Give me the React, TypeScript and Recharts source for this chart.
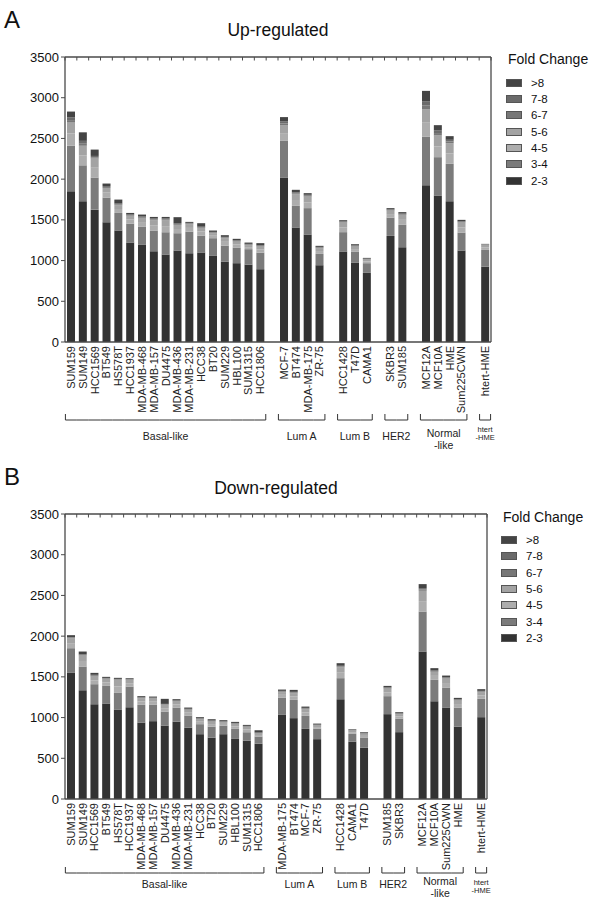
import React from 'react';
import { BarChart, Bar, XAxis, YAxis } from 'recharts';

// ---------- shared ----------
const binNames = ['2-3', '3-4', '4-5', '5-6', '6-7', '7-8', '>8'];
const binColors = ['#333333', '#7b7b7b', '#adadad', '#a3a3a3', '#777777', '#6a6a6a', '#444444'];
const yTicks = [0, 500, 1000, 1500, 2000, 2500, 3000, 3500];
const groupNames = ['Basal-like', 'Lum A', 'Lum B', 'HER2', 'Normal\n-like', 'htert\n-HME'];

// ---------- Panel A: Up-regulated ----------
const upCategories = [
  'SUM159', 'SUM149', 'HCC1569', 'BT549', 'HS578T', 'HCC1937', 'MDA-MB-468', 'MDA-MB-157', 'DU4475',
  'MDA-MB-436', 'MDA-MB-231', 'HCC38', 'BT20', 'SUM229', 'HBL100', 'SUM1315', 'HCC1806', '',
  'MCF-7', 'BT474', 'MDA-MB-175', 'ZR-75', '',
  'HCC1428', 'T47D', 'CAMA1', '',
  'SKBR3', 'SUM185', '',
  'MCF12A', 'MCF10A', 'HME', 'Sum225CWN', '',
  'htert-HME',
];
const up2to3 = [1850, 1730, 1625, 1470, 1368, 1221, 1197, 1114, 1074, 1123, 1091, 1098, 1058, 988, 968, 951, 894, null, 2020, 1405, 1316, 943, null, 1107, 972, 849, null, 1303, 1165, null, 1926, 1795, 1730, 1123, null, 926];
const up3to4 = [560, 440, 395, 304, 217, 233, 221, 255, 274, 213, 265, 209, 217, 196, 192, 189, 204, null, 450, 267, 328, 139, null, 242, 139, 119, null, 225, 274, null, 597, 475, 458, 221, null, 205];
const up4to5 = [150, 120, 120, 60, 48, 50, 55, 65, 75, 52, 45, 50, 30, 46, 37, 25, 37, null, 95, 72, 71, 35, null, 59, 30, 22, null, 43, 61, null, 170, 133, 127, 61, null, 31];
const up5to6 = [135, 120, 113, 58, 47, 45, 52, 62, 70, 50, 46, 43, 31, 45, 36, 24, 37, null, 94, 72, 71, 35, null, 59, 31, 22, null, 43, 61, null, 167, 133, 127, 62, null, 31];
const up6to7 = [30, 25, 15, 12, 10, 8, 10, 10, 10, 10, 8, 8, 8, 8, 8, 8, 8, null, 25, 10, 10, 8, null, 8, 8, 6, null, 8, 8, null, 47, 30, 20, 8, null, 4];
const up7to8 = [35, 35, 17, 12, 10, 8, 10, 10, 13, 11, 8, 8, 8, 8, 8, 8, 8, null, 24, 13, 12, 8, null, 8, 8, 6, null, 8, 8, null, 46, 31, 21, 8, null, 4];
const upOver8 = [70, 105, 78, 30, 49, 20, 20, 20, 20, 74, 12, 43, 17, 21, 18, 16, 26, null, 54, 30, 20, 13, null, 13, 13, 9, null, 14, 18, null, 131, 66, 45, 17, null, 4];

// ---------- Panel B: Down-regulated ----------
const downCategories = [
  'SUM159', 'SUM149', 'HCC1569', 'BT549', 'HS578T', 'HCC1937', 'MDA-MB-468', 'MDA-MB-157', 'DU4475',
  'MDA-MB-436', 'MDA-MB-231', 'HCC38', 'BT20', 'SUM229', 'HBL100', 'SUM1315', 'HCC1806', '',
  'MDA-MB-175', 'BT474', 'MCF-7', 'ZR-75', '',
  'HCC1428', 'CAMA1', 'T47D', '',
  'SUM185', 'SKBR3', '',
  'MCF12A', 'MCF10A', 'Sum225CWN', 'HME', '',
  'htert-HME',
];
const down2to3 = [1553, 1337, 1165, 1172, 1095, 1128, 939, 956, 902, 951, 877, 796, 754, 796, 738, 717, 677, null, 1033, 993, 861, 735, null, 1226, 705, 631, null, 1042, 821, null, 1807, 1201, 1123, 889, null, 1005];
const down3to4 = [299, 290, 245, 217, 208, 253, 217, 200, 172, 172, 148, 123, 135, 106, 123, 103, 90, null, 213, 224, 160, 130, null, 258, 95, 119, null, 221, 167, null, 495, 262, 246, 234, null, 225];
const down4to5 = [62, 68, 47, 43, 80, 41, 41, 39, 41, 37, 35, 30, 31, 20, 30, 33, 18, null, 33, 41, 41, 18, null, 67, 20, 25, null, 46, 27, null, 128, 49, 55, 43, null, 41];
const down5to6 = [61, 67, 47, 43, 80, 41, 41, 38, 41, 37, 35, 31, 31, 21, 31, 33, 18, null, 33, 42, 41, 19, null, 68, 20, 25, null, 47, 27, null, 127, 49, 55, 43, null, 41];
const down6to7 = [6, 8, 10, 6, 6, 6, 6, 6, 6, 7, 6, 6, 7, 6, 6, 6, 8, null, 8, 8, 8, 6, null, 8, 5, 5, null, 8, 6, null, 16, 8, 8, 8, null, 8];
const down7to8 = [7, 9, 11, 6, 6, 6, 6, 6, 6, 7, 7, 6, 7, 6, 6, 6, 8, null, 8, 8, 8, 6, null, 9, 5, 6, null, 8, 6, null, 17, 9, 8, 8, null, 8];
const downOver8 = [24, 32, 24, 13, 13, 9, 13, 13, 62, 15, 15, 13, 15, 13, 13, 12, 26, null, 16, 24, 16, 12, null, 32, 7, 9, null, 17, 12, null, 49, 29, 21, 17, null, 21];

const FONT = '"Liberation Sans", Arial, Helvetica, sans-serif';
const AXIS = '#4a4a4a';

function buildRows(cats: string[], series: (number | null)[][]) {
  return cats.map((c, i) => {
    const row: any = { key: c || `gap${i}`, label: c };
    series.forEach((s, k) => {
      row[`b${k}`] = s[i];
    });
    return row;
  });
}

function buildGroups(cats: string[]) {
  const groups: { start: number; end: number; name: string }[] = [];
  let cur: any = null;
  cats.forEach((c, i) => {
    if (c) {
      if (!cur) {
        cur = { start: i, end: i, name: groupNames[groups.length] };
        groups.push(cur);
      } else cur.end = i;
    } else cur = null;
  });
  return groups;
}

type PanelCfg = {
  letter: string;
  title: string;
  cats: string[];
  series: (number | null)[][];
  top: number;
  height: number;
  marginTop: number;
  marginRight: number;
  xAxisHeight: number;
  bracketOff: number;
  labelOff: number;
  legendX: number;
  legendTitleY: number;
  legendFirstY: number;
  letterY: number;
  titleY: number;
};

const YAXIS_W = 40;
const MARGIN_L = 25;
const WIDTH = 593;

function Panel({ cfg }: { cfg: PanelCfg }) {
  const rows = buildRows(cfg.cats, cfg.series);
  const groups = buildGroups(cfg.cats);
  const plotLeft = MARGIN_L + YAXIS_W;
  const plotRight = WIDTH - cfg.marginRight;
  const plotTop = cfg.marginTop;
  const slot = (plotRight - plotLeft) / cfg.cats.length;
  const keyIndex = new Map(rows.map((r: any, i: number) => [r.key, i]));
  const T = cfg.top;

  const CatTick = (props: any) => {
    const { x, y, payload } = props;
    const i = keyIndex.get(payload.value) as number;
    const row = rows[i];
    if (!row || !row.label) return <g />;
    const g = groups.find((gr) => i >= gr.start && i <= gr.end)!;
    const by = y + cfg.bracketOff;
    const left = i === g.start ? x - 5.5 : x - slot / 2;
    const right = i === g.end ? x + 5.5 : x + slot / 2;
    const els: any[] = [];
    els.push(
      <text key="t" x={x} y={y} transform={`rotate(-90 ${x} ${y})`} textAnchor="end" dy="0.36em"
        fontSize={11} fill="#222" fontFamily={FONT}>{row.label}</text>
    );
    els.push(<line key="b" x1={left} x2={right} y1={by} y2={by} stroke="#333" strokeWidth={1} />);
    if (i === g.start) els.push(<line key="h1" x1={left} x2={left} y1={by - 6} y2={by} stroke="#333" strokeWidth={1} />);
    if (i === g.end) els.push(<line key="h2" x1={right} x2={right} y1={by - 6} y2={by} stroke="#333" strokeWidth={1} />);
    if (i === g.start) {
      const cx = x + ((g.end - g.start) * slot) / 2;
      const lines = g.name.split('\n');
      const small = g.end === g.start;
      lines.forEach((ln, k) => {
        let ly;
        if (small) ly = by + 12 + k * 8;
        else if (lines.length === 1) ly = y + cfg.labelOff;
        else ly = y + cfg.labelOff - 3 + k * 12;
        els.push(
          <text key={`g${k}`} x={cx} y={ly} textAnchor="middle" fontSize={small ? 7.5 : 10.5} fill="#222" fontFamily={FONT}>{ln}</text>
        );
      });
    }
    return <g>{els}</g>;
  };

  // inward tick marks on the top frame, at slot boundaries
  const TopTick = (props: any) => {
    const { x, payload } = props;
    const i = keyIndex.get(payload.value) as number;
    const xs = [x - slot / 2];
    if (i === rows.length - 1) xs.push(x + slot / 2);
    return (
      <g>
        {xs.map((xx, k) => (
          <line key={k} x1={xx} x2={xx} y1={plotTop} y2={plotTop + 3.5} stroke={AXIS} strokeWidth={1} />
        ))}
      </g>
    );
  };

  // inward tick marks on the right frame
  const RightTick = (props: any) => {
    const { payload } = props;
    const yy = payload.coordinate;
    return <line x1={plotRight - 3.5} x2={plotRight} y1={yy} y2={yy} stroke={AXIS} strokeWidth={1} />;
  };

  const legendItems = binNames.map((n, k) => ({ n, c: binColors[k] })).reverse();

  return (
    <div style={{ position: 'absolute', left: 0, top: T, width: WIDTH, height: cfg.height }}>
      <BarChart
        width={WIDTH}
        height={cfg.height}
        data={rows}
        barCategoryGap="17%"
        margin={{ top: cfg.marginTop, right: cfg.marginRight, bottom: 0, left: MARGIN_L }}
        style={{ position: 'absolute', left: 0, top: 0 }}
      >
        <XAxis dataKey="key" interval={0} height={cfg.xAxisHeight} tick={<CatTick />} tickSize={0} tickMargin={4}
          tickLine={false} axisLine={{ stroke: AXIS, strokeWidth: 1.3 }} />
        <XAxis xAxisId="top" dataKey="key" orientation="top" mirror interval={0} tick={<TopTick />}
          tickLine={false} tickSize={0} axisLine={{ stroke: AXIS, strokeWidth: 1.3 }} />
        <YAxis width={YAXIS_W} domain={[0, 3500]} ticks={yTicks} interval={0} tickSize={4} tickMargin={2}
          tick={{ fontSize: 13, fill: '#111', fontFamily: FONT }} tickLine={{ stroke: AXIS }} axisLine={{ stroke: AXIS, strokeWidth: 1.3 }} />
        <YAxis yAxisId="right" orientation="right" mirror domain={[0, 3500]} ticks={yTicks} interval={0}
          tick={<RightTick />} tickLine={false} tickSize={0} axisLine={{ stroke: AXIS, strokeWidth: 1.3 }} />
        {binNames.map((n, k) => (
          <Bar key={n} dataKey={`b${k}`} name={n} stackId="s" fill={binColors[k]} isAnimationActive={false} />
        ))}
      </BarChart>
      <div style={{ position: 'absolute', left: 4, top: cfg.letterY - T - 24, fontSize: 24, fontFamily: FONT, color: '#111', lineHeight: '28px' }}>{cfg.letter}</div>
      <div style={{ position: 'absolute', left: plotLeft, width: plotRight - plotLeft, top: cfg.titleY - T - 19, textAlign: 'center', fontSize: 17.5, fontFamily: FONT, color: '#111', lineHeight: '22px' }}>{cfg.title}</div>
      <div style={{ position: 'absolute', left: cfg.legendX, top: cfg.legendTitleY - T - 14, fontSize: 14, fontFamily: FONT, color: '#111', lineHeight: '18px', whiteSpace: 'nowrap' }}>Fold Change</div>
      {legendItems.map((it, k) => (
        <div key={it.n} style={{ position: 'absolute', left: cfg.legendX - 2, top: cfg.legendFirstY - T + k * 16.3 - 8, height: 16, display: 'flex', alignItems: 'center', fontFamily: FONT, fontSize: 11.5, color: '#111' }}>
          <span style={{ display: 'inline-block', width: 14, height: 6, background: it.c, border: '0.5px solid #555', marginRight: 9 }} />
          <span>{it.n}</span>
        </div>
      ))}
    </div>
  );
}

const panelA: PanelCfg = {
  letter: 'A', title: 'Up-regulated', cats: upCategories,
  series: [up2to3, up3to4, up4to5, up5to6, up6to7, up7to8, upOver8],
  top: 0, height: 452, marginTop: 57, marginRight: 102, xAxisHeight: 110,
  bracketOff: 74, labelOff: 94, legendX: 508, legendTitleY: 64, legendFirstY: 82.7, letterY: 30, titleY: 38,
};
const panelB: PanelCfg = {
  letter: 'B', title: 'Down-regulated', cats: downCategories,
  series: [down2to3, down3to4, down4to5, down5to6, down6to7, down7to8, downOver8],
  top: 458, height: 442, marginTop: 56, marginRight: 106, xAxisHeight: 101,
  bracketOff: 70, labelOff: 85, legendX: 503, legendTitleY: 522, legendFirstY: 540, letterY: 487, titleY: 496,
};

export default function App() {
  return (
    <div style={{ position: 'absolute', left: 0, top: 0, width: WIDTH, height: 900, background: '#fff', overflow: 'hidden' }}>
      <Panel cfg={panelA} />
      <Panel cfg={panelB} />
    </div>
  );
}
